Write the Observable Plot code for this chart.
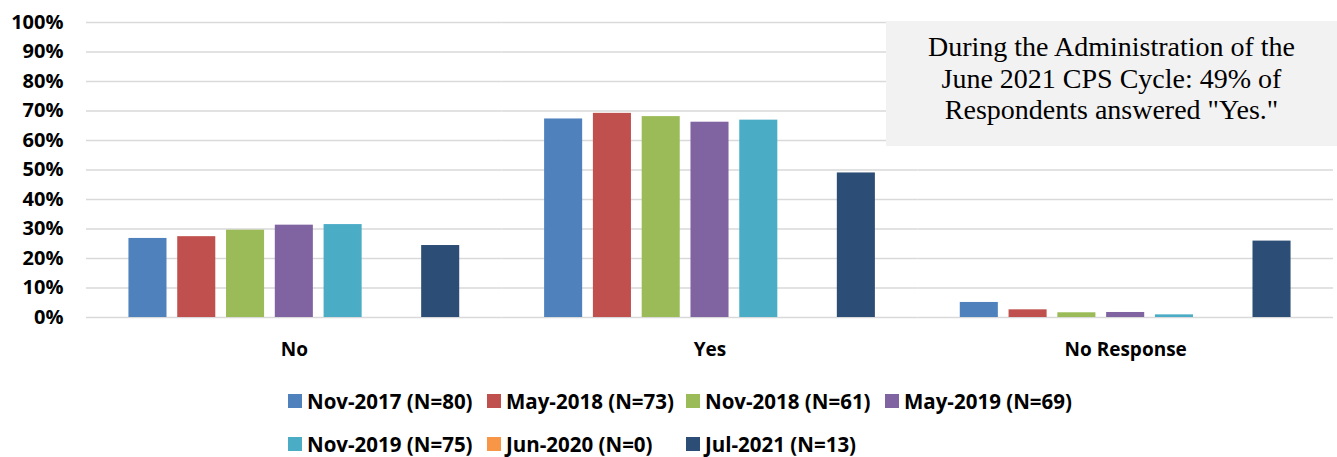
<!DOCTYPE html>
<html>
<head>
<meta charset="utf-8">
<script src="https://cdn.jsdelivr.net/npm/d3@7"></script>
<script src="https://cdn.jsdelivr.net/npm/@observablehq/plot@0.6"></script>
<style>
  html, body { margin: 0; padding: 0; background: #fff; }
  #wrap { position: relative; width: 1337px; height: 457px; font-family: "Open Sans", sans-serif; }
  #note {
    position: absolute; left: 886px; top: 21px; width: 451px; height: 125px;
    background: #f2f2f2; box-sizing: border-box; padding-top: 10px;
    font-family: "Liberation Serif", "Times New Roman", serif; font-size: 28px;
    line-height: 31.7px; text-align: center; color: #000;
  }
  #legend {
    display: flex; flex-wrap: wrap; width: 800px; margin-left: 288px; margin-top: 19px;
    row-gap: 19px;
  }
  .item { width: 199px; height: 24px; line-height: 24px; display: flex; align-items: center;
    font-family: "Open Sans", sans-serif; font-weight: bold; font-size: 20.5px; color: #000; white-space: nowrap; }
  .sw { width: 14px; height: 14px; margin-right: 5px; flex: none; }
  svg [aria-label^="fx-axis"] text { font-size: 19px; }
</style>
</head>
<body>
<div id="wrap">
  <div id="chart"></div>
  <div id="legend"></div>
  <div id="note">During the Administration of the<br>June 2021 CPS Cycle: 49% of<br>Respondents answered "Yes."</div>
</div>
<script>
// Categories (x groups)
const categories = ["No", "Yes", "No Response"];
// Series labels (survey cycles)
const series = [
  "Nov-2017 (N=80)", "May-2018 (N=73)", "Nov-2018 (N=61)", "May-2019 (N=69)",
  "Nov-2019 (N=75)", "Jun-2020 (N=0)", "Jul-2021 (N=13)"
];
const colors = ["#4F81BD", "#C0504D", "#9BBB59", "#8064A2", "#4BACC6", "#F79646", "#2C4D75"];
// Values per series, in category order [No, Yes, No Response]
const nov2017 = [0.268, 0.673, 0.051];
const may2018 = [0.274, 0.692, 0.026];
const nov2018 = [0.296, 0.681, 0.016];
const may2019 = [0.313, 0.662, 0.017];
const nov2019 = [0.315, 0.669, 0.009];
const jun2020 = [null, null, null];
const jul2021 = [0.244, 0.490, 0.259];
const yTicks = [0, 0.1, 0.2, 0.3, 0.4, 0.5, 0.6, 0.7, 0.8, 0.9, 1.0];

const seriesValues = [nov2017, may2018, nov2018, may2019, nov2019, jun2020, jul2021];
const data = [];
series.forEach((s, i) => {
  categories.forEach((c, j) => {
    const v = seriesValues[i][j];
    if (v != null) data.push({category: c, series: s, value: v});
  });
});

const chart = Plot.plot({
  width: 1337,
  height: 370,
  marginLeft: 86,
  marginRight: 4,
  marginTop: 22,
  marginBottom: 53,
  style: {fontFamily: "'Open Sans', sans-serif", fontSize: "20px", fontWeight: "bold", color: "#000", background: "transparent"},
  fx: {domain: categories, padding: 0, round: false, tickSize: 0, tickPadding: 25, label: null},
  x: {domain: series, paddingInner: 0.22, paddingOuter: 0.87, round: false, axis: null},
  y: {domain: [0, 1], ticks: yTicks, tickFormat: d3.format(".0%"), tickSize: 0, tickPadding: 23, label: null},
  color: {domain: series, range: colors},
  marks: [
    Plot.ruleY(yTicks, {stroke: "#d9d9d9", strokeWidth: 1.4}),
    Plot.barY(data, {fx: "category", x: "series", y: "value", fill: "series"})
  ]
});
document.getElementById("chart").appendChild(chart);

// Legend built from the same series/colors
const legend = d3.select("#legend");
series.forEach((s, i) => {
  const it = legend.append("div").attr("class", "item");
  it.append("div").attr("class", "sw").style("background", colors[i]);
  it.append("span").text(s);
});
</script>
</body>
</html>
